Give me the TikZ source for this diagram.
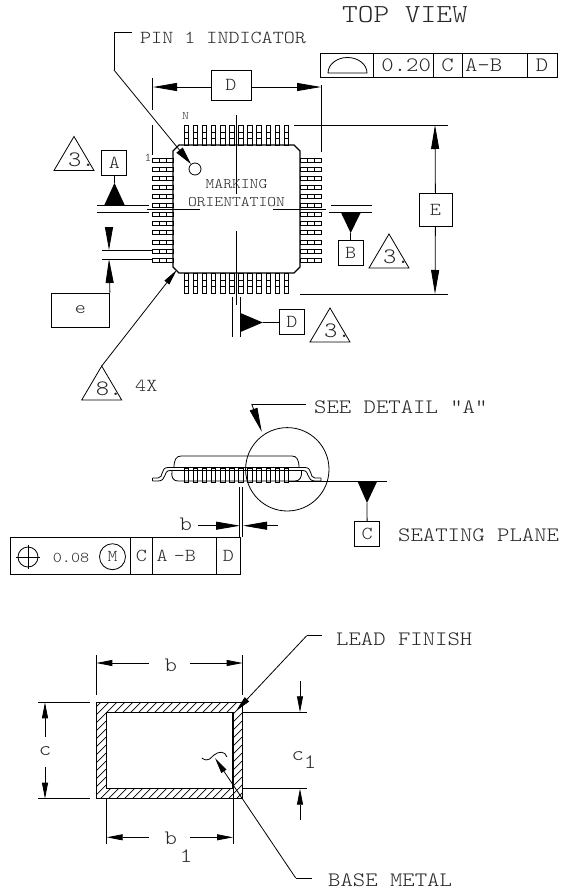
\documentclass[tikz,border=0pt]{standalone}
\usepackage{fontspec}
\setmonofont[FakeStretch=1.15]{Latin Modern Mono Light}
\usepackage{tikz}
\usetikzlibrary{arrows.meta}
\newcommand{\mono}[1]{\ttfamily\fontsize{#1}{#1}\selectfont}
\newcommand{\flagtri}[4]{%
  \draw[part] (#2,#3-34) -- (#2-20,#3) -- (#2+20,#3) -- cycle;
  \node[font=\mono{22},inner sep=0pt,text=black!85] (#1) at (#2+7.5,#3-11) {#4\kern0pt.};
}
\tikzset{
  part/.style={line width=0.8pt,black},
  dimln/.style={line width=0.8pt,black},
  bigtip/.style={dimln,-{Triangle[length=24pt,width=8pt]}},
  midtip/.style={dimln,-{Triangle[length=16pt,width=6pt]}},
  lbl/.style={font=\mono{18.3},inner sep=0pt,text=black!85},
  small/.style={font=\mono{15},inner sep=0pt,text=black!85},
  wide/.style={font=\mono{20.5},inner sep=0pt,text=black!85},
  datum/.style={draw,line width=0.8pt,font=\mono{18.3},text=black!85,inner sep=0pt,minimum width=25pt,minimum height=25pt},
  cell/.style={draw,line width=0.8pt,font=\mono{18.3},text=black!85,inner sep=0pt},
}
\begin{document}
\begin{tikzpicture}[x=1pt,y=-1pt]
\useasboundingbox (0,0) rectangle (561,892);

% top view
\node[font=\mono{26},inner sep=0pt,text=black!85,anchor=west] (title) at (342,15) {TOP VIEW};
\node[lbl,anchor=west] (pinTxt) at (140,38) {PIN 1 INDICATOR};
\node[draw,circle,line width=0.8pt,inner sep=0pt,minimum size=12pt] (pinDot) at (195,169) {};
\coordinate (pinA) at (132,32);
\coordinate (pinB) at (114,32);
\coordinate (pinC) at (114,70);
\draw[dimln] (pinA) -- (pinB) -- (pinC);
\draw[dimln,-{Triangle[length=18pt,width=8pt]}] (pinC) -- (pinDot);

% frame above the package
\node[cell,minimum width=52.3pt,minimum height=24pt] (frmA) at (347,65.5) {};
\node[cell,font=\mono{20.5},minimum width=60pt,minimum height=24pt,text width=56pt,align=right] (frmB) at (403,65.5) {0.20};
\node[cell,font=\mono{20.5},minimum width=29pt,minimum height=24pt] (frmC) at (447.5,65.5) {C};
\node[cell,font=\mono{20.5},minimum width=65pt,minimum height=24pt,text width=59pt,align=left] (frmD) at (494.5,65.5) {A-B};
\node[cell,font=\mono{20.5},minimum width=30pt,minimum height=24pt] (frmE) at (542,65.5) {D};
\draw[part] (328,73) arc[start angle=180,end angle=0,x radius=19.5pt,y radius=15.5pt] -- cycle;

% package body and leads
\draw[line width=1.3pt] (179,145) -- (294,145) -- (300,151) -- (300,267) -- (294,273)
  -- (179,273) -- (173,267) -- (173,151) -- cycle;
\foreach \i in {0,...,11} {
  \draw[part] ({184+9.1*\i},125) rectangle +(4.5,20);
  \draw[part] ({184+9.1*\i},132) -- +(4.5,0) ({184+9.1*\i},138) -- +(4.5,0);
  \draw[part] ({184+9.1*\i},273) rectangle +(4.5,20);
  \draw[part] ({184+9.1*\i},280) -- +(4.5,0) ({184+9.1*\i},286) -- +(4.5,0);
  \draw[part] (152.5,{158+9.1*\i}) rectangle +(20.5,4);
  \draw[part] (159.5,{158+9.1*\i}) -- +(0,4) (166,{158+9.1*\i}) -- +(0,4);
  \draw[part] (300,{158+9.1*\i}) rectangle +(21,4);
  \draw[part] (307,{158+9.1*\i}) -- +(0,4) (314,{158+9.1*\i}) -- +(0,4);
}
\node[small,font=\mono{11.5}] (pinN) at (185.5,116) {N};
\node[small,font=\mono{12}] (pinOne) at (148,158) {1};
\node[small,font=\mono{14.6}] (mark) at (236.5,184) {MARKING};
\node[small,font=\mono{14.6}] (orient) at (236.5,201.7) {ORIENTATION};

% centre lines
\draw[dimln] (236.7,115) -- (236.7,194);
\draw[dimln] (236.7,231) -- (236.7,305);
\draw[dimln] (147,209) -- (200,209);
\draw[dimln] (273,209) -- (326,209);

% dimension D
\node[datum,minimum width=40pt,minimum height=30pt] (boxD) at (231,85) {D};
\coordinate (dimDl) at (153,87);
\coordinate (dimDr) at (321,87);
\draw[bigtip] (boxD.west |- dimDl) -- (dimDl);
\draw[bigtip] (boxD.east |- dimDr) -- (dimDr);
\draw[dimln] (152.7,78) -- (152.7,110) (152.7,125) -- (152.7,155);
\draw[dimln] (321,85) -- (321,152);

% dimension E
\node[datum,minimum width=33pt,minimum height=33pt] (boxE) at (435.5,210) {E};
\coordinate (dimEt) at (435,125);
\coordinate (dimEb) at (435,294);
\draw[bigtip] (boxE) -- (dimEt);
\draw[bigtip] (boxE) -- (dimEb);
\draw[dimln] (294,125) -- (448,125);
\draw[dimln] (300,294) -- (448,294);

% datum A
\node[datum] (boxA) at (114.3,162.5) {A};
\coordinate (triA) at (114.5,183);
\draw[dimln] (boxA) -- (triA);
\fill (triA) -- (104,205.7) -- (125,205.7) -- cycle;
\draw[dimln] (97,205.7) -- (149,205.7);
\draw[dimln] (97,212) -- (149,212);
\flagtri{flagA}{74}{170.5}{3}

% datum B
\node[datum] (boxB) at (350.7,253) {B};
\coordinate (triB) at (350.7,233);
\draw[dimln] (boxB) -- (triB);
\fill (triB) -- (340.7,212) -- (361,212) -- cycle;
\draw[dimln] (331,205.7) -- (372,205.7);
\draw[dimln] (329,212) -- (372,212);
\flagtri{flagB}{389}{268}{3}

% datum D
\node[datum] (boxDt) at (292,322.3) {D};
\coordinate (triD) at (262.7,322.5);
\draw[dimln] (boxDt) -- (triD);
\fill (triD) -- (240.5,313) -- (240.5,332) -- cycle;
\draw[dimln] (232.7,297) -- (232.7,336.7);
\draw[dimln] (240,297) -- (240,336.7);
\flagtri{flagD}{330}{342}{3}

% pitch e
\node[datum,minimum width=58pt,minimum height=34pt] (boxe) at (80.5,310) {e};
\coordinate (tipEa) at (109,250);
\coordinate (tipEb) at (109,259);
\draw[dimln,-{Triangle[length=23pt,width=8pt]}] (109,227) -- (tipEa);
\draw[dimln,-{Triangle[length=24pt,width=8pt]}] (boxe.north east) -- (tipEb);
\draw[dimln] (102,250) -- (152,250);
\draw[dimln] (102,259) -- (152,259);

% corner flag
\flagtri{flagE}{101.7}{400}{8}
\node[lbl,anchor=west] (fourX) at (135,386) {4X};
\coordinate (cornerTip) at (176.7,270);
\draw[midtip] (101.7,366) -- (cornerTip);

% side view
\node[wide,anchor=west] (seeTxt) at (314,407) {SEE DETAIL "A"};
\coordinate (seeA) at (305.7,404);
\coordinate (seeB) at (251.7,404);
\coordinate (seeTip) at (261.7,431.7);
\draw[dimln] (seeA) -- (seeB);
\draw[dimln,-{Triangle[length=24pt,width=8pt]}] (seeB) -- (seeTip);
\draw[part] (287.3,469.3) circle[radius=41.7pt];
\draw[part] (174,468) .. controls (174,460) and (176,456) .. (181,456) -- (292,456)
  .. controls (297,456) and (299,460) .. (299,468);
\draw[part] (172,471) .. controls (171,477) and (173,481) .. (178,481) -- (295,481)
  .. controls (300,481) and (302,477) .. (301.5,471);
\draw[part] (152.5,478) -- (158,478) .. controls (164,478) and (160,467.5) .. (168,467.5) -- (305,467.5)
  .. controls (313,467.5) and (309,478) .. (315,478) -- (321,478);
\draw[part] (152.5,481) -- (158,481) .. controls (167,481) and (163,470.5) .. (170,470.5) -- (303,470.5)
  .. controls (310,470.5) and (306,481) .. (315,481) -- (321,481) -- (321,478);
\draw[part] (152.5,478) -- (152.5,481);
\foreach \i in {0,...,11} {
  \draw[part] ({184+9.1*\i},468) rectangle +(4.5,14.5);
}
\draw[dimln] (288,481.7) -- (386.7,481.7);
\node[datum] (boxC) at (367.2,533.7) {C};
\coordinate (triC) at (367,503);
\draw[dimln] (boxC) -- (triC);
\fill (triC) -- (357.7,481.7) -- (377,481.7) -- cycle;
\node[wide,anchor=west] (seatTxt) at (398,535) {SEATING PLANE};

% lead width b
\node[wide] (wTxt) at (185.7,524) {b};
\coordinate (wTipL) at (240,525.7);
\coordinate (wTipR) at (243,525.7);
\draw[bigtip] (198,525.7) -- (wTipL);
\draw[bigtip] (277.7,525.7) -- (wTipR);
\draw[dimln] (239.7,487) -- (239.7,537);
\draw[dimln] (242.7,487) -- (242.7,537);

% frame below the package
\node[cell,minimum width=119.5pt,minimum height=37pt] (lowA) at (70.25,555.5) {};
\node[cell,minimum width=22.7pt,minimum height=37pt] (lowB) at (141.35,555.5) {C};
\node[cell,minimum width=64pt,minimum height=37pt,text width=56pt,align=left] (lowC) at (184.7,555.5) {A -B};
\node[cell,minimum width=23.3pt,minimum height=37pt] (lowD) at (228.35,555.5) {D};
\node[draw,circle,line width=0.8pt,inner sep=0pt,minimum size=20pt] (posA) at (28,557) {};
\draw[part] (16,557) -- (40,557) (28,545) -- (28,569);
\node[small] (tolV) at (71,558) {0.08};
\node[draw,circle,line width=0.8pt,font=\mono{16.5},text=black!85,inner sep=0pt,minimum size=26pt] (posM) at (112.5,556.7) {M};

% lead section
\begin{scope}
  \clip (96.3,702.3) rectangle (242.7,798.7);
  \foreach \h in {0,8,...,260} {
    \draw[line width=0.7pt] ({96.3+\h-100},798.7) -- ++(100,-100);
  }
\end{scope}
\draw[line width=1.1pt] (96.3,702.3) rectangle (242.7,798.7);
\draw[line width=1.1pt,fill=white] (106.7,712.3) rectangle (233,788.7);

\node[wide] (sbTop) at (170.7,665) {b};
\coordinate (sbL) at (96.3,663);
\coordinate (sbR) at (242.7,663);
\draw[midtip] (149,663) -- (sbL);
\draw[midtip] (190,663) -- (sbR);
\draw[dimln] (96.3,655) -- (96.3,695);
\draw[dimln] (242.7,655) -- (242.7,695);

\node[wide] (scLeft) at (45,751) {c};
\coordinate (scT) at (45,702.3);
\coordinate (scB) at (45,798.7);
\draw[midtip] (45,736.7) -- (scT);
\draw[midtip] (45,766.7) -- (scB);
\draw[dimln] (38,702.3) -- (90,702.3);
\draw[dimln] (38,798.7) -- (90,798.7);

\node[wide] (sbBot) at (170.7,838) {b};
\node[wide] (sbSub) at (186,856) {1};
\coordinate (baseL) at (106.7,837.3);
\coordinate (baseR) at (233,837.3);
\draw[midtip] (149,837.3) -- (baseL);
\draw[midtip] (190,837.3) -- (baseR);
\draw[dimln] (106.7,798) -- (106.7,844);
\draw[dimln] (233,788) -- (233,844);

\node[wide] (scRight) at (297.7,756) {c};
\node[wide] (scSub) at (310,762) {1};
\coordinate (coreT) at (300,712.3);
\coordinate (coreB) at (300,788.7);
\draw[midtip] (300,681) -- (coreT);
\draw[midtip] (300,820) -- (coreB);
\draw[dimln] (243,712.3) -- (307,712.3);
\draw[dimln] (243,788.7) -- (307,788.7);

\node[wide,anchor=west] (finTxt) at (336,639) {LEAD FINISH};
\coordinate (finA) at (321.7,635.7);
\coordinate (finB) at (306.7,635.7);
\coordinate (finTip) at (236,711);
\draw[dimln] (finA) -- (finB);
\draw[midtip] (finB) -- (finTip);

\node[wide,anchor=west] (metTxt) at (328,880) {BASE METAL};
\coordinate (metA) at (311.7,878);
\coordinate (metB) at (295.7,878);
\coordinate (metTip) at (215,758);
\draw[dimln] (metA) -- (metB);
\draw[midtip] (metB) -- (metTip);
\draw[part] (201.7,758) .. controls (209,763) and (211,757) .. (214,755)
  .. controls (219,751) and (225,751) .. (227,757);
\end{tikzpicture}
\end{document}
